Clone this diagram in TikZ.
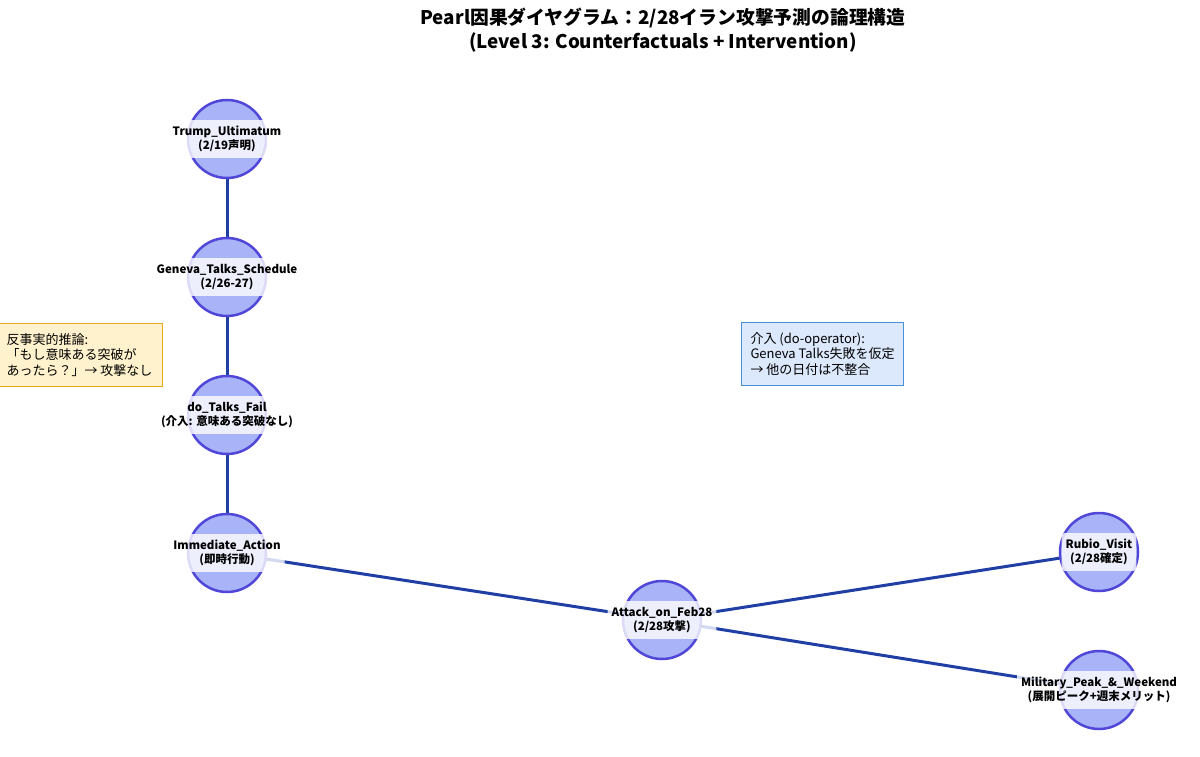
\documentclass[tikz,border=0pt]{standalone}
\usepackage{fontspec}
\setmainfont{Noto Sans CJK JP}
\usetikzlibrary{backgrounds}
\definecolor{nodefill}{HTML}{A9B3F7}
\definecolor{nodeline}{HTML}{5046D8}
\definecolor{edgeblue}{HTML}{1F3FA5}
\definecolor{noteyellow}{HTML}{FFF2CC}
\definecolor{noteorange}{HTML}{E9A825}
\definecolor{noteblue}{HTML}{DCE8FC}
\definecolor{noteline}{HTML}{4A90D9}

\begin{document}
\begin{tikzpicture}[x=1pt, y=-1pt,
  causal/.style={circle, fill=nodefill, draw=nodeline, line width=2.5pt, minimum size=78pt, inner sep=0pt},
  causallbl/.style={fill=white, fill opacity=0.8, text opacity=1, rounded corners=3pt, inner xsep=4pt, inner ysep=6pt,
    align=center, font=\bfseries\fontsize{11.5}{14}\selectfont},
  link/.style={draw=edgeblue, line width=3pt},
  note/.style={draw, line width=1pt, align=left, inner xsep=9pt, inner ysep=8pt, font=\fontsize{13}{15.5}\selectfont}]
  \useasboundingbox (0,0) rectangle (1200,757);

  % title
  \node[font=\bfseries\fontsize{18.8}{23.5}\selectfont, align=center] (title) at (663,30)
    {Pearl因果ダイヤグラム：2/28イラン攻撃予測の論理構造\\(Level 3: Counterfactuals + Intervention)};

  % causal nodes
  \node[causal] (trump) at (227,139) {};
  \node[causal] (geneva) at (227,277) {};
  \node[causal] (dofail) at (227,415) {};
  \node[causal] (immediate) at (227,553) {};
  \node[causal] (attack) at (662,620) {};
  \node[causal] (rubio) at (1099,552) {};
  \node[causal] (military) at (1099,690) {};

  \node[causallbl] (trumplbl) at (trump) {Trump\_Ultimatum\\(2/19声明)};
  \node[causallbl] (genevalbl) at (geneva) {Geneva\_Talks\_Schedule\\(2/26-27)};
  \node[causallbl] (dofaillbl) at (dofail) {do\_Talks\_Fail\\(介入: 意味ある突破なし)};
  \node[causallbl] (immediatelbl) at (immediate) {Immediate\_Action\\(即時行動)};
  \node[causallbl] (attacklbl) at (attack) {Attack\_on\_Feb28\\(2/28攻撃)};
  \node[causallbl] (rubiolbl) at (rubio) {Rubio\_Visit\\(2/28確定)};
  \node[causallbl] (militarylbl) at (military) {Military\_Peak\_\&\_Weekend\\(展開ピーク+週末メリット)};

  % links behind the nodes
  \begin{scope}[on background layer]
    \draw[link] (trump.center) -- (geneva.center);
    \draw[link] (geneva.center) -- (dofail.center);
    \draw[link] (dofail.center) -- (immediate.center);
    \draw[link] (immediate.center) -- (attack.center);
    \draw[link] (attack.center) -- (rubio.center);
    \draw[link] (attack.center) -- (military.center);
  \end{scope}

  % notes
  \node[note, fill=noteyellow, draw=noteorange, anchor=north east, minimum height=63pt, minimum width=166pt] (counternote) at (163,323)
    {反事実的推論:\\「もし意味ある突破が\\あったら？」→ 攻撃なし};
  \node[note, fill=noteblue, draw=noteline, anchor=north west, minimum height=63pt] (donote) at (741,322)
    {介入 (do-operator):\\Geneva Talks失敗を仮定\\→ 他の日付は不整合};
\end{tikzpicture}
\end{document}
